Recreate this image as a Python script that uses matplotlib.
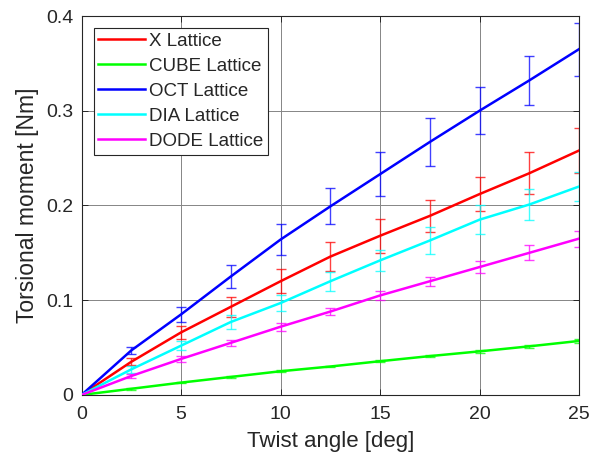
import numpy as np
import matplotlib
matplotlib.use("Agg")
import matplotlib.pyplot as plt

plt.rcParams["font.family"] = ["Liberation Sans", "DejaVu Sans"]

# twist angle [deg]
angle = [0, 2.5, 5, 7.5, 10, 12.5, 15, 17.5, 20, 22.5, 25]

# mean torsional moment [Nm]
x_lat = [0, 0.035, 0.066, 0.093, 0.120, 0.146, 0.168, 0.189, 0.212, 0.234, 0.258]
cube_lat = [0, 0.0065, 0.013, 0.019, 0.025, 0.030, 0.0356, 0.041, 0.046, 0.0513, 0.057]
oct_lat = [0, 0.047, 0.085, 0.125, 0.164, 0.199, 0.233, 0.267, 0.300, 0.332, 0.365]
dia_lat = [0, 0.027, 0.052, 0.077, 0.097, 0.120, 0.142, 0.163, 0.185, 0.201, 0.220]
dode_lat = [0, 0.020, 0.038, 0.055, 0.072, 0.088, 0.105, 0.120, 0.135, 0.150, 0.165]

# std dev at 2.5 .. 25
x_err = [0.0035, 0.007, 0.0105, 0.0125, 0.015, 0.018, 0.017, 0.018, 0.022, 0.024]
cube_err = [0.0008, 0.0008, 0.001, 0.001, 0.001, 0.001, 0.0012, 0.0012, 0.0015, 0.002]
oct_err = [0.004, 0.008, 0.0125, 0.016, 0.019, 0.023, 0.025, 0.025, 0.026, 0.028]
dia_err = [0.0035, 0.005, 0.007, 0.008, 0.010, 0.011, 0.014, 0.015, 0.016, 0.015]
dode_err = [0.002, 0.003, 0.003, 0.004, 0.004, 0.005, 0.0045, 0.0065, 0.008, 0.0085]

series = [
    ("X Lattice", x_lat, x_err, "#ff0000"),
    ("CUBE Lattice", cube_lat, cube_err, "#00ff00"),
    ("OCT Lattice", oct_lat, oct_err, "#0000ff"),
    ("DIA Lattice", dia_lat, dia_err, "#00ffff"),
    ("DODE Lattice", dode_lat, dode_err, "#ff00ff"),
]

fig = plt.figure(figsize=(6.04, 4.63), dpi=100)
ax = fig.add_axes([0.135, 0.147, 0.8236, 0.8184])

txt = "#262626"

for name, y, err, col in series:
    ax.plot(angle, y, color=col, lw=1.8, label=name, zorder=3)
    ax.errorbar(angle[1:], y[1:], yerr=err, fmt="none", ecolor=col,
                elinewidth=1.0, capsize=3.5, capthick=1.0, alpha=0.75, zorder=2)

ax.set_xlim(0, 25)
ax.set_ylim(0, 0.4)
ax.set_xticks([0, 5, 10, 15, 20, 25])
ax.set_yticks([0, 0.1, 0.2, 0.3, 0.4])
ax.set_xticklabels(["0", "5", "10", "15", "20", "25"])
ax.set_yticklabels(["0", "0.1", "0.2", "0.3", "0.4"])
ax.grid(True, color="#858585", lw=0.7, zorder=0)
ax.tick_params(direction="in", top=True, right=True, labelsize=14,
               colors=txt, length=4, width=0.7)
ax.tick_params(axis="x", pad=8)
ax.tick_params(axis="y", pad=6)
for s in ax.spines.values():
    s.set_color(txt)
    s.set_linewidth(0.8)

ax.set_xlabel("Twist angle [deg]", fontsize=16, color=txt, labelpad=6)
ax.set_ylabel("Torsional moment [Nm]", fontsize=16.5, color=txt, labelpad=5)

leg = ax.legend(loc="upper left", fontsize=13.5, handlelength=2.5,
                handletextpad=0.2, labelspacing=0.42, borderpad=0.25,
                borderaxespad=0.65, fancybox=False, framealpha=1)
leg.get_frame().set_edgecolor(txt)
leg.get_frame().set_linewidth(0.8)
for t in leg.get_texts():
    t.set_color(txt)

fig.savefig("out.png", dpi=100)
